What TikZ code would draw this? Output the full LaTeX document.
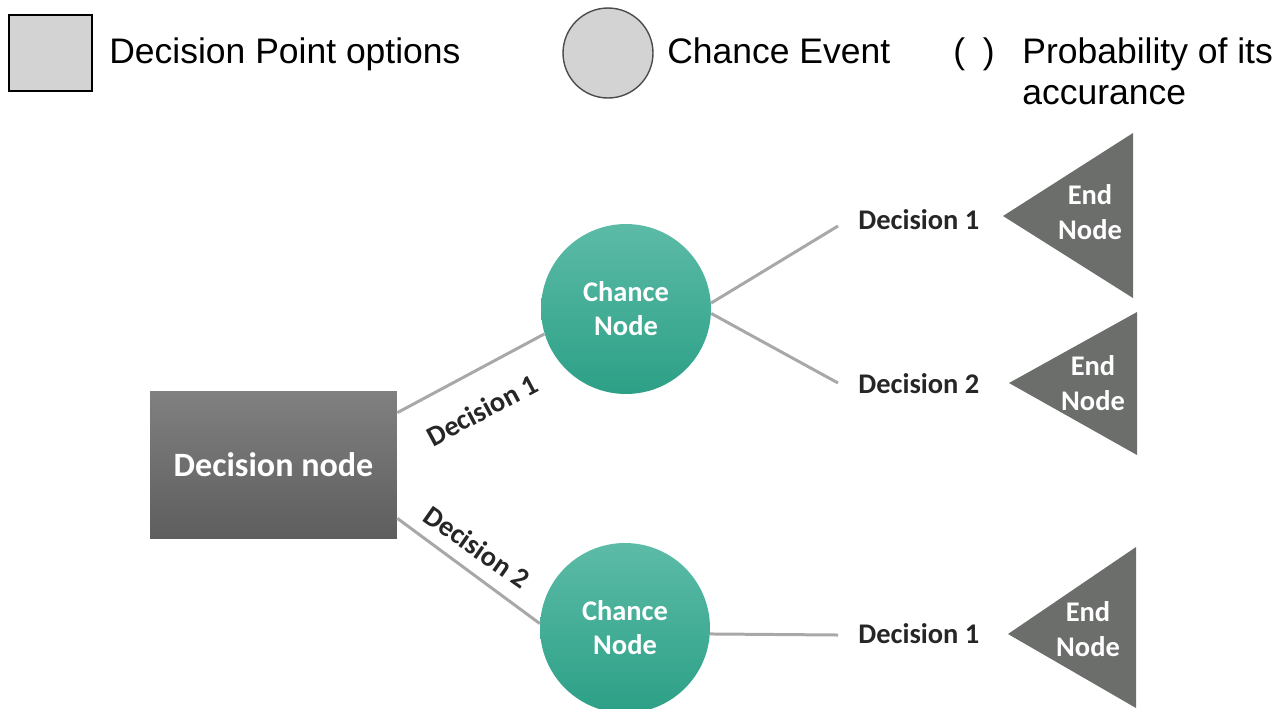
\documentclass[tikz,border=0pt]{standalone}
\usepackage{fontspec}
\setmainfont{Carlito}
\newfontfamily\legendfont{Liberation Sans}
\usetikzlibrary{calc}
\definecolor{legfill}{RGB}{211,211,211}
\definecolor{dectop}{RGB}{128,128,128}
\definecolor{decbot}{RGB}{94,94,94}
\definecolor{teal1}{RGB}{92,187,167}
\definecolor{teal2}{RGB}{44,160,134}
\definecolor{linegray}{RGB}{168,168,168}
\definecolor{endgray}{RGB}{108,110,108}
\tikzset{
 legtext/.style={font=\legendfont\fontsize{20.2}{24}\selectfont, inner sep=0pt},
 legbox/.style={draw=black, line width=1.1pt, fill=legfill, minimum width=1.66cm, minimum height=1.52cm, inner sep=0pt},
 legcirc/.style={circle, draw=black!70, line width=0.8pt, fill=legfill, minimum size=1.8cm, inner sep=0pt},
 decbox/.style={rectangle, top color=dectop, bottom color=decbot, minimum width=4.94cm, minimum height=2.94cm, text=white, font=\bfseries\fontsize{19.4}{23}\selectfont},
 chance/.style={circle, top color=teal1, bottom color=teal2, minimum size=3.4cm, inner sep=0pt, text=white, align=center, font=\bfseries\fontsize{16.2}{19.3}\selectfont},
 branch/.style={draw=linegray, line width=1.7pt},
 dlabel/.style={font=\bfseries\fontsize{16.2}{19}\selectfont, text=black!85, inner sep=0pt},
 endtri/.style={fill=endgray},
 endtext/.style={text=white, align=center, font=\bfseries\fontsize{16.2}{19.5}\selectfont, inner sep=0pt},
}
\begin{document}
\begin{tikzpicture}[x=0.02cm,y=-0.02cm]
\useasboundingbox (0,0) rectangle (1287,708);
% legend
\node[legbox] (lsq) at (50.5,53) {};
\node[legtext, anchor=base west] (lsqt) at (109,63) {Decision Point options};
\node[legcirc] (lci) at (608,53) {};
\node[legtext, anchor=base west] (lcit) at (667,63) {Chance Event};
\node[legtext, anchor=base] (lpar) at (974,63) {(\hspace{0.5em})};
\node[legtext, anchor=base west] (lpt1) at (1022,63) {Probability of its};
\node[legtext, anchor=base west] (lpt2) at (1022,104) {accurance};
% tree
\node[decbox] (dec) at (273.5,464.5) {Decision node};
\node[chance] (c1) at (626,309) {Chance\\Node};
\node[chance] (c2) at (625,628) {Chance\\Node};
\coordinate (d1s) at ($(dec.north east)+(0,22)$);
\coordinate (d2s) at ($(dec.south east)+(0,-20)$);
\draw[branch] (d1s) -- (c1.197);
\draw[branch] (d2s) -- (c2.177);
\coordinate (e1) at (838,226);
\coordinate (e2) at (838,383);
\coordinate (e3) at (838,635);
\draw[branch] (c1.4) -- (e1);
\draw[branch] (c1.-3) -- (e2);
\draw[branch] (c2.-4) -- (e3);
\node[dlabel, rotate=28] (l1) at (482,410) {Decision 1};
\node[dlabel, rotate=-35] (l2) at (477,547) {Decision 2};
\node[dlabel, anchor=west] (r1) at (858,220) {Decision 1};
\node[dlabel, anchor=west] (r2) at (858,384) {Decision 2};
\node[dlabel, anchor=west] (r3) at (858,634) {Decision 1};
% end nodes
\fill[endtri] (1003,216) -- (1133,133) -- (1133,298) -- cycle;
\fill[endtri] (1009,383) -- (1137,312) -- (1137,455) -- cycle;
\fill[endtri] (1008,634) -- (1136,547) -- (1136,708) -- cycle;
\node[endtext] (t1) at (1090,212) {End\\Node};
\node[endtext] (t2) at (1093,383) {End\\Node};
\node[endtext] (t3) at (1088,629) {End\\Node};
\end{tikzpicture}
\end{document}
